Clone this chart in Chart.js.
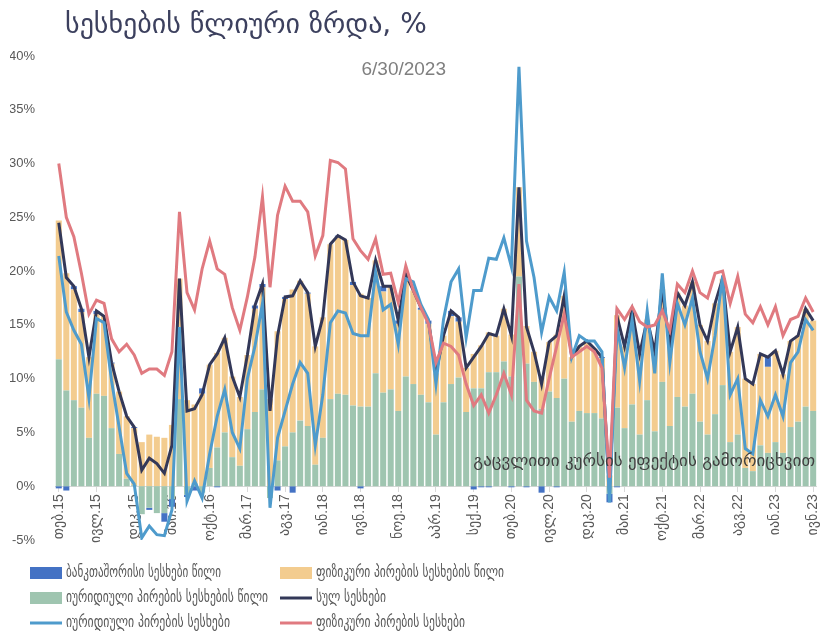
<!DOCTYPE html>
<html>
<head>
<meta charset="utf-8">
<script src="https://cdn.jsdelivr.net/npm/chart.js@4.4.0/dist/chart.umd.min.js"></script>
<style>
  html, body { margin: 0; padding: 0; background: #fff; }
  #wrap { width: 833px; height: 642px; }
</style>
</head>
<body>
<div id="wrap"><canvas id="loans" width="833" height="642"></canvas></div>
<script>
// month labels Feb 2015 .. Jun 2023
const monthNames = ['იან', 'თებ', 'მარ', 'აპრ', 'მაი', 'ივნ', 'ივლ', 'აგვ', 'სექ', 'ოქტ', 'ნოე', 'დეკ'];
const months = [];
for (let i = 0; i < 101; i++) {
  months.push(monthNames[(1 + i) % 12] + '.' + (15 + Math.floor((1 + i) / 12)));
}

// contributions to total growth, pp
const interbankShare = [
  -0.2, -0.4, 0.3, 0.3, 0, 0.3, 0, 0.1, 0, 0,
  0.1, 0, -0.2, 0, -0.8, -0.7, 0, -0.2, -0.4, 0.5,
  0, -0.1, 0, 0, 0, 0, 0.3, 0.3, 0, -0.4,
  0.2, -0.6, 0, 0.1, 0, 0, 0, 0.1, 0, 0.3,
  -0.2, 0, 0, 0.5, 0, 0.3, 0, 0, 0.2, 0.3,
  0, 0, 0.5, 0.4, 0, -0.3, -0.1, -0.1, 0, 0,
  -0.1, 0, -0.1, 0, -0.6, 0, -0.1, 0, 0, 0,
  0, 0, 0.1, -0.8, -0.1, 0, 0, 0, 0, 0,
  0, 0, 0, 0, 0, 0, 0, 0, 0, 0,
  0, 0, 0, 0, 0.9, 0, 0, 0, 0, 0,
  0
];
const householdShare = [
  12.9, 10.9, 10.3, 8.9, 7.5, 7.4, 7.4, 6.0, 5.8, 5.8,
  5.3, 4.1, 4.8, 4.6, 4.5, 5.7, 11.2, 8.0, 7.3, 8.6,
  9.6, 8.8, 8.8, 7.5, 6.4, 6.9, 9.6, 9.5, 8.1, 12.0,
  13.7, 13.3, 13.0, 12.3, 11.0, 11.2, 14.4, 14.6, 14.4, 11.2,
  10.5, 10.1, 10.5, 9.4, 9.6, 8.1, 9.5, 8.7, 7.9, 7.3,
  5.7, 6.2, 6.3, 5.2, 4.1, 3.2, 4.0, 3.7, 3.4, 4.9,
  3.9, 8.3, 3.5, 2.8, 2.9, 4.6, 5.9, 7.7, 6.0, 6.0,
  6.7, 6.0, 5.6, 1.0, 8.6, 7.6, 8.7, 7.5, 7.5, 7.4,
  8.6, 7.4, 9.7, 9.4, 10.4, 9.0, 8.7, 10.3, 9.9, 8.4,
  10.0, 8.3, 8.1, 8.5, 8.0, 8.5, 7.3, 8.0, 8.0, 9.1,
  8.4
];
const corporateShare = [
  11.8, 8.9, 8.0, 7.3, 4.5, 8.6, 8.4, 5.4, 3.0, 0.7,
  0.1, -2.6, -2.0, -2.5, -2.5, -1.2, 8.1, -0.8, 0.3, -0.6,
  1.7, 3.6, 5.0, 2.7, 1.9, 5.3, 6.9, 9.0, -1.1, 2.4,
  3.7, 5.0, 6.1, 5.6, 2.0, 4.5, 8.1, 8.6, 8.5, 7.5,
  7.4, 7.4, 10.5, 8.7, 9.0, 7.0, 10.2, 9.5, 8.5, 7.8,
  4.8, 7.8, 9.5, 10.1, 6.9, 9.1, 9.1, 10.6, 10.6, 11.6,
  10.2, 19.5, 11.4, 9.7, 7.2, 8.8, 8.2, 10.0, 6.0, 7.0,
  6.8, 6.8, 6.3, -0.7, 7.3, 5.4, 7.6, 4.8, 8.0, 5.1,
  9.7, 5.6, 8.3, 7.4, 8.6, 6.0, 4.8, 6.7, 9.4, 4.1,
  4.8, 1.7, 1.4, 3.8, 3.1, 4.1, 3.1, 5.5, 6.0, 7.4,
  7.0
];

// annual growth rates, %
const totalGrowth = [
  24.5, 19.4, 18.6, 16.5, 12.0, 16.3, 15.8, 11.5, 8.8, 6.5,
  5.5, 1.5, 2.6, 2.1, 1.2, 3.8, 19.3, 7.0, 7.2, 8.5,
  11.3, 12.3, 13.8, 10.2, 8.3, 12.2, 16.8, 18.8, 7.0, 14.0,
  17.6, 17.7, 19.1, 18.0, 13.0, 15.7, 22.5, 23.3, 22.9, 19.0,
  17.7, 17.5, 21.0, 18.6, 18.6, 15.4, 19.7, 18.2, 16.6, 15.4,
  10.5, 14.0, 16.3, 15.7, 11.0, 12.0, 13.0, 14.2, 14.0, 16.5,
  14.0, 27.8, 14.8, 12.5, 9.5, 13.4, 14.0, 17.7, 12.0, 13.0,
  13.5, 12.8, 12.0, -0.5, 15.8, 13.0, 16.3, 12.3, 15.5, 12.5,
  18.3, 13.0, 18.0, 16.8, 19.0, 15.0, 13.5, 17.0, 19.3, 12.5,
  14.8, 10.0, 9.5, 12.3, 12.0, 12.6, 10.4, 13.5, 14.0, 16.5,
  15.4
];
const corporateGrowth = [
  21.4, 16.2, 14.5, 13.2, 8.2, 15.6, 15.2, 9.8, 5.5, 1.2,
  0.2, -4.8, -3.7, -4.5, -4.6, -2.2, 14.8, -1.4, 0.5, -1.1,
  3.0, 6.5, 9.0, 5.0, 3.5, 10.0, 13.0, 17.0, -2.0, 4.5,
  7.0, 9.5, 11.5, 10.5, 3.8, 8.5, 15.2, 16.3, 16.1, 14.2,
  14.0, 14.0, 19.9, 16.4, 16.9, 13.2, 19.3, 19.0, 16.9, 15.5,
  9.5, 15.5, 19.0, 20.2, 13.8, 18.2, 18.2, 21.2, 21.1, 23.1,
  20.4, 39.0, 22.8, 19.4, 14.3, 17.6, 16.3, 19.9, 12.0, 14.0,
  13.5, 13.5, 12.5, -1.5, 14.8, 11.0, 15.5, 9.8, 16.3, 10.5,
  19.8, 11.5, 17.0, 15.0, 17.5, 12.5, 10.0, 14.0, 19.6, 8.5,
  10.0, 3.5, 3.0, 8.0, 6.5, 8.5, 6.5, 11.5, 12.5, 15.5,
  14.5
];
const householdGrowth = [
  30.0, 25.0, 23.2, 19.8, 16.0, 17.3, 17.0, 13.7, 12.5, 13.2,
  12.2, 10.5, 10.9, 10.9, 10.3, 12.5, 25.5, 18.0, 16.4, 20.2,
  22.8, 20.2, 19.7, 16.6, 14.5, 17.6, 21.3, 26.9, 18.5, 25.2,
  27.9, 26.5, 26.5, 25.5, 21.4, 23.3, 30.3, 30.1, 29.5, 23.0,
  21.9, 21.1, 23.0, 19.7, 19.8, 17.1, 20.5, 18.2, 16.6, 15.1,
  11.5, 13.3, 13.0, 12.2, 9.5, 7.5, 8.5, 6.8, 8.5, 10.5,
  8.5, 18.8, 8.0, 7.0, 6.8, 10.0, 13.0, 16.0, 12.0, 12.5,
  13.0, 12.5, 11.0, 0.8, 16.5, 15.5, 16.7, 15.3, 14.8, 15.0,
  16.3, 14.5, 18.8, 18.0, 20.0, 18.0, 17.5, 19.8, 20.0, 17.0,
  19.5, 16.0, 15.2, 16.7, 15.0, 16.7, 14.0, 15.5, 15.8, 17.5,
  16.2
];

const yTicks = [-5, 0, 5, 10, 15, 20, 25, 30, 35, 40];

const chartTitle = 'სესხების წლიური ზრდა, %';
const reportDate = '6/30/2023';
const note = 'გაცვლითი კურსის ეფექტის გამორიცხვით';

const colors = {
  interbank: '#4472c4',
  household: '#f3cc8f',
  corporate: '#9fc5b0',
  total: '#333858',
  corporateLine: '#4e9bcc',
  householdLine: '#e07a80'
};

const fontFamily = '"Liberation Sans", "DejaVu Sans", sans-serif';
const geoFont = '"DejaVu Sans", sans-serif';

// legend: two columns, three rows; width = room the label is squeezed into
const legendItems = [
  { text: 'ბანკთაშორისი სესხები წილი', color: colors.interbank, kind: 'box', width: 155 },
  { text: 'ფიზიკური პირების სესხების წილი', color: colors.household, kind: 'box', width: 188 },
  { text: 'იურიდიული პირების სესხების წილი', color: colors.corporate, kind: 'box', width: 202 },
  { text: 'სულ სესხები', color: colors.total, kind: 'line', width: 70 },
  { text: 'იურიდიული პირების სესხები', color: colors.corporateLine, kind: 'line', width: 164 },
  { text: 'ფიზიკური პირების სესხები', color: colors.householdLine, kind: 'line', width: 149 }
];

const textLayer = {
  id: 'textLayer',
  afterDraw(chart) {
    const { ctx } = chart;
    ctx.save();
    ctx.textBaseline = 'middle';

    ctx.fillStyle = '#3c405e';
    ctx.font = '28px ' + geoFont;
    ctx.textAlign = 'left';
    ctx.fillText(chartTitle, 65, 26, 380);

    ctx.fillStyle = '#7f7f7f';
    ctx.font = '19px ' + fontFamily;
    ctx.textAlign = 'right';
    ctx.fillText(reportDate, 446, 70);

    ctx.fillStyle = '#404040';
    ctx.font = '17px ' + geoFont;
    ctx.fillText(note, 815, 462, 345);

    // legend
    ctx.textAlign = 'left';
    ctx.font = '16px ' + geoFont;
    legendItems.forEach((item, i) => {
      const x = i % 2 === 0 ? 30 : 280;
      const y = 573 + Math.floor(i / 2) * 25;
      if (item.kind === 'box') {
        ctx.fillStyle = item.color;
        ctx.fillRect(x, y - 6, 32, 12);
      } else {
        ctx.strokeStyle = item.color;
        ctx.lineWidth = 3;
        ctx.beginPath();
        ctx.moveTo(x, y);
        ctx.lineTo(x + 32, y);
        ctx.stroke();
      }
      ctx.fillStyle = '#595959';
      ctx.fillText(item.text, x + 36, y, item.width);
    });
    ctx.restore();
  }
};

const lineStyle = { type: 'line', borderWidth: 3, pointRadius: 0, tension: 0, fill: false };

new Chart(document.getElementById('loans').getContext('2d'), {
  type: 'bar',
  data: {
    labels: months,
    datasets: [
      { ...lineStyle, label: legendItems[5].text, data: householdGrowth, borderColor: colors.householdLine, stack: 'hh' },
      { ...lineStyle, label: legendItems[4].text, data: corporateGrowth, borderColor: colors.corporateLine, stack: 'corp' },
      { ...lineStyle, label: legendItems[3].text, data: totalGrowth, borderColor: colors.total, stack: 'total' },
      { label: legendItems[2].text, data: corporateShare, backgroundColor: colors.corporate, stack: 'shares' },
      { label: legendItems[1].text, data: householdShare, backgroundColor: colors.household, stack: 'shares' },
      { label: legendItems[0].text, data: interbankShare, backgroundColor: colors.interbank, stack: 'shares' }
    ]
  },
  options: {
    responsive: false,
    animation: false,
    devicePixelRatio: 1,
    layout: { padding: { left: 10, right: 7, top: 56, bottom: 102 } },
    datasets: {
      bar: { categoryPercentage: 1, barPercentage: 0.8 }
    },
    plugins: {
      legend: { display: false },
      title: { display: false },
      tooltip: { enabled: false }
    },
    scales: {
      x: {
        stacked: true,
        position: { y: 0 },
        offset: true,
        grid: {
          display: true,
          drawOnChartArea: false,
          drawTicks: true,
          tickLength: 5,
          offset: false,
          color: ctx => ctx.index % 5 === 0 ? '#d9d9d9' : 'rgba(0,0,0,0)'
        },
        border: { display: true, color: '#d9d9d9', width: 1 },
        ticks: {
          autoSkip: false,
          minRotation: 90,
          maxRotation: 90,
          padding: 3,
          color: '#595959',
          font: { family: fontFamily, size: 14 },
          callback: (v, i) => i % 5 === 0 ? months[i] : ''
        }
      },
      y: {
        stacked: true,
        min: yTicks[0],
        max: yTicks[yTicks.length - 1],
        afterFit: scale => { scale.width = 45; },
        afterBuildTicks: scale => { scale.ticks = yTicks.map(v => ({ value: v })); },
        grid: { display: false },
        border: { display: false },
        ticks: {
          padding: 12,
          color: '#595959',
          font: { family: fontFamily, size: 13 },
          callback: v => v + '%'
        }
      }
    }
  },
  plugins: [textLayer]
});
</script>
</body>
</html>
